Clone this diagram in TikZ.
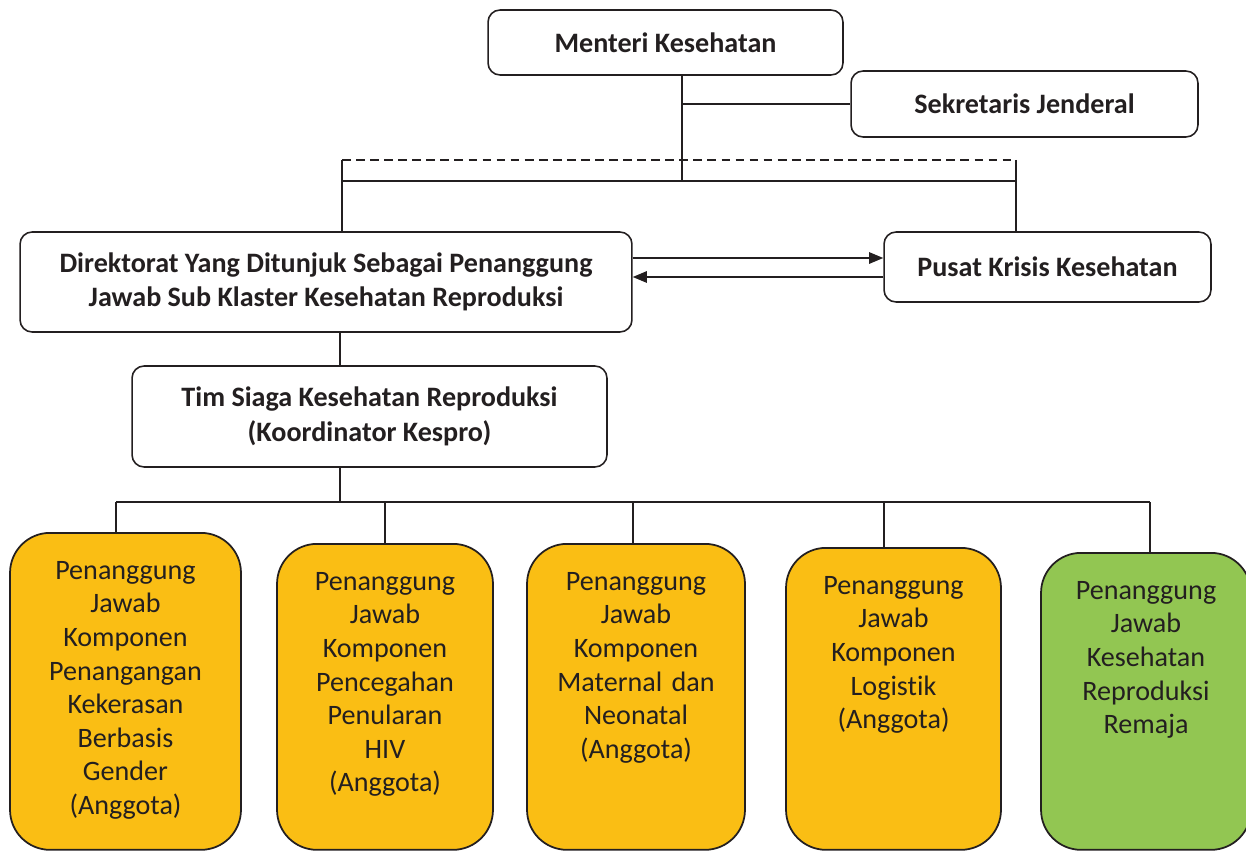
\documentclass[tikz,border=0pt]{standalone}
\usepackage{fontspec}
\setmainfont{Carlito}[Ligatures={NoCommon,TeX}]
\usetikzlibrary{arrows.meta}
\definecolor{pjyellow}{RGB}{250,190,20}
\definecolor{pjgreen}{RGB}{146,198,82}
\definecolor{inkdark}{RGB}{35,31,32}
\begin{document}
\begin{tikzpicture}[
  x=0.02cm, y=-0.02cm,
  topbox/.style={draw=inkdark, line width=0.9pt, rounded corners=0.24cm, font=\fontsize{16}{19.6}\selectfont\bfseries, align=center, inner sep=0pt, text=inkdark},
  pjbox/.style={draw=inkdark, line width=1pt, rounded corners=0.8cm, anchor=north, align=center, inner sep=0pt, text height=0.93cm, font=\fontsize{16}{19.1}\selectfont, text=inkdark},
  link/.style={draw=inkdark, line width=0.6pt},
  arr/.style={draw=inkdark, line width=0.8pt, -{Triangle[length=8pt,width=6.5pt]}}
]
\useasboundingbox (0,0) rectangle (1246,851);

\node[topbox, minimum width=7.1cm, minimum height=1.3cm] (menteri) at (665.5,42.5) {Menteri Kesehatan};
\node[topbox, minimum width=6.94cm, minimum height=1.32cm] (sekjen) at (1024.5,104) {Sekretaris Jenderal};
\node[topbox, minimum width=12.24cm, minimum height=2cm] (dir) at (326,282) {Direktorat Yang Ditunjuk Sebagai Penanggung\\Jawab Sub Klaster Kesehatan Reproduksi};
\node[topbox, minimum width=6.54cm, minimum height=1.4cm] (pusat) at (1047.5,267) {Pusat Krisis Kesehatan};
\node[topbox, minimum width=9.5cm, minimum height=2.02cm] (tim) at (369.5,416.5) {Tim Siaga Kesehatan Reproduksi\\(Koordinator Kespro)};

\node[pjbox, fill=pjyellow, text width=4.62cm, text depth=5.41cm] (pj1) at (125.5,532) {Penanggung\\Jawab\\Komponen\\Penangangan\\Kekerasan\\Berbasis\\Gender\\(Anggota)};
\node[pjbox, fill=pjyellow, text width=4.32cm, text depth=5.19cm] (pj2) at (385,543) {Penanggung\\Jawab\\Komponen\\Pencegahan\\Penularan\\HIV\\(Anggota)};
\node[pjbox, fill=pjyellow, text width=4.36cm, text depth=5.19cm] (pj3) at (636,543) {Penanggung\\Jawab\\Komponen\\Maternal dan\\Neonatal\\(Anggota)};
\node[pjbox, fill=pjyellow, text width=4.3cm, text depth=5.11cm] (pj4) at (893.5,547) {Penanggung\\Jawab\\Komponen\\Logistik\\(Anggota)};
\node[pjbox, fill=pjgreen, text width=4.2cm, text depth=5.01cm] (pj5) at (1146,552) {Penanggung\\Jawab\\Kesehatan\\Reproduksi\\Remaja};

% junctions
\coordinate (mk) at (682,181);
\coordinate (dl) at (342,160);
\coordinate (dr) at (1016,160);
\coordinate (sl) at (342,181);
\coordinate (sr) at (1016,181);
\coordinate (tk) at (340,502);
\coordinate (bus1) at (116,502);
\coordinate (bus2) at (385,502);
\coordinate (bus3) at (633,502);
\coordinate (bus4) at (884,502);
\coordinate (bus5) at (1150,502);

\draw[link] (menteri.south -| mk) -- (mk);
\draw[link] (sekjen.west -| mk) -- (sekjen.west);
\draw[link, dashed, dash pattern=on 5pt off 3pt] (dl) -- (dr);
\draw[link] (sl) -- (sr);
\draw[link] (dl) -- (dl |- dir.north);
\draw[link] (dr) -- (dr |- pusat.north);

\draw[arr] ([yshift=0.18cm]pusat.west -| dir.east) -- ([yshift=0.18cm]pusat.west);
\draw[arr] ([yshift=-0.2cm]pusat.west) -- ([yshift=-0.2cm]pusat.west -| dir.east);

\draw[link] (dir.south -| tk) -- (tim.north -| tk);
\draw[link] (tim.south -| tk) -- (tk);
\draw[link] (bus1) -- (bus5);
\foreach \i in {1,...,5}
  \draw[link] (bus\i) -- (bus\i |- pj\i.north);
\end{tikzpicture}
\end{document}
